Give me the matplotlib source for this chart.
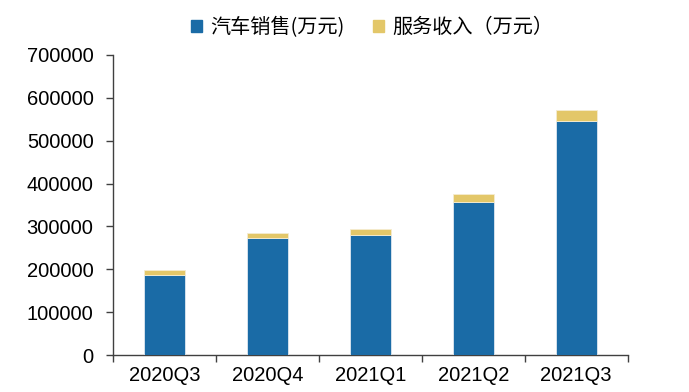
import matplotlib as mpl
mpl.use("Agg")
import matplotlib.pyplot as plt
import numpy as np
from matplotlib.patches import Patch

quarters = ["2020Q3", "2020Q4", "2021Q1", "2021Q2", "2021Q3"]
car_sales = [188000, 272000, 280000, 357000, 545000]
service_rev = [10000, 12000, 13000, 18000, 27000]

BLUE = "#1a6ba6"
GOLD = "#e3c769"
AXIS = "#404040"

plt.rcParams["font.family"] = ["Liberation Sans", "Noto Sans CJK SC", "DejaVu Sans"]

fig = plt.figure(figsize=(6.89, 3.92), dpi=100)
ax = fig.add_axes([0.164, 0.094, 0.747, 0.766])

x = np.arange(len(quarters))
ax.bar(x, car_sales, width=0.4, color=BLUE, edgecolor="#dfe8f0", linewidth=0.6,
       label="汽车销售(万元)", zorder=3)
ax.bar(x, service_rev, width=0.4, bottom=car_sales, color=GOLD, edgecolor="#f5ecd0",
       linewidth=0.6, label="服务收入（万元）", zorder=3)

ax.set_xlim(-0.5, len(quarters) - 0.5)
ax.set_ylim(0, 700000)
ax.set_yticks(np.arange(0, 700001, 100000))
ax.set_yticklabels([f"{v:d}" for v in range(0, 700001, 100000)], fontsize=14.5)

ax.set_xticks(x)
ax.set_xticklabels(quarters, fontsize=14.5)
ax.tick_params(axis="x", length=0, pad=8)
ax.set_xticks(np.arange(-0.5, len(quarters)), minor=True)
ax.tick_params(axis="x", which="minor", length=5, width=1.0, color=AXIS, direction="out")
ax.tick_params(axis="y", length=5, width=1.0, color=AXIS, direction="out", pad=9)

for side in ("top", "right"):
    ax.spines[side].set_visible(False)
for side in ("left", "bottom"):
    ax.spines[side].set_color(AXIS)
    ax.spines[side].set_linewidth(1.0)

handles = [Patch(color=BLUE, label="汽车销售(万元)"),
           Patch(color=GOLD, label="服务收入（万元）")]
fig.legend(handles=handles, loc="center", bbox_to_anchor=(0.54, 0.93), ncol=2,
           frameon=False, prop={"family": ["Noto Sans CJK SC", "DejaVu Sans"], "size": 14.5},
           handlelength=0.55, handleheight=0.55, handletextpad=0.4, columnspacing=1.4)

fig.savefig("out.png", dpi=100, facecolor="white")
